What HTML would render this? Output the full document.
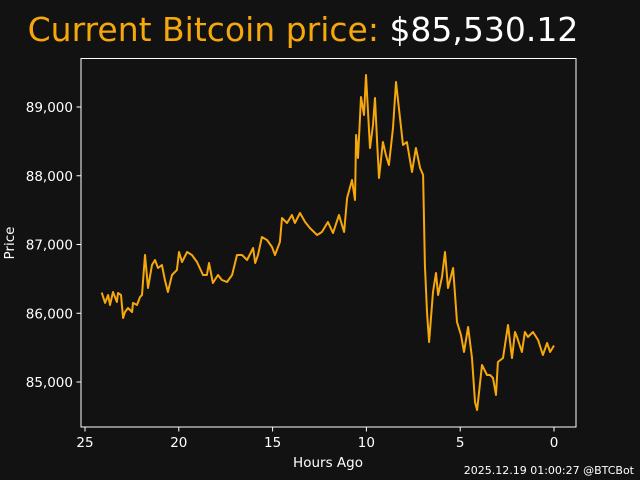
<!DOCTYPE html>
<html><head><meta charset="utf-8"><style>
html,body{margin:0;padding:0;background:#121212;}
svg{display:block;font-family:"DejaVu Sans","Liberation Sans",sans-serif;}
</style></head><body>
<svg id="chart" width="640" height="480" viewBox="0 0 640 480">
<rect width="640" height="480" fill="#121212"/>
<text x="303" y="41" text-anchor="middle" font-size="33"><tspan fill="#f5a70c">Current Bitcoin price: </tspan><tspan fill="#ffffff">$85,530.12</tspan></text>
<g id="ticks"></g>
<g id="plot"></g>
<rect x="81" y="58.5" width="495" height="368.5" fill="none" stroke="#ffffff" stroke-width="1"/>
<text x="10" y="243" transform="rotate(-90 10 243)" text-anchor="middle" fill="#ffffff" font-size="13.5" dominant-baseline="central">Price</text>
<text x="328" y="467" text-anchor="middle" fill="#ffffff" font-size="13.5">Hours Ago</text>
<text x="634" y="474" text-anchor="end" fill="#ffffff" font-size="11">2025.12.19 01:00:27 @BTCBot</text>
</svg>
<script>
const hoursAgo = [24.11,23.93,23.77,23.67,23.51,23.30,23.24,23.08,22.97,22.87,22.71,22.49,22.44,22.23,22.07,21.96,21.80,21.64,21.43,21.27,21.11,20.90,20.74,20.58,20.36,20.10,19.99,19.83,19.56,19.30,19.03,18.71,18.50,18.39,18.18,17.91,17.70,17.43,17.16,16.90,16.63,16.36,16.04,15.93,15.78,15.57,15.30,15.03,14.87,14.61,14.50,14.23,13.97,13.81,13.54,13.27,13.01,12.63,12.37,12.05,11.78,11.46,11.19,11.03,10.77,10.61,10.55,10.45,10.29,10.13,10.02,9.81,9.65,9.54,9.43,9.33,9.12,8.96,8.80,8.58,8.42,8.21,8.05,7.84,7.57,7.36,7.14,6.98,6.88,6.77,6.66,6.45,6.29,6.18,5.97,5.81,5.65,5.38,5.17,4.96,4.80,4.58,4.37,4.21,4.10,3.84,3.57,3.41,3.25,3.09,2.99,2.72,2.45,2.24,2.08,1.97,1.71,1.55,1.39,1.12,0.85,0.59,0.37,0.21,0.05,0.0];
const prices = [86300,86150,86266,86120,86309,86164,86295,86266,85931,86018,86076,86018,86150,86120,86236,86266,86847,86367,86702,86775,86658,86702,86484,86309,86556,86629,86891,86746,86891,86847,86746,86556,86556,86731,86440,86556,86484,86455,86556,86847,86847,86775,86949,86731,86847,87109,87066,86964,86847,87036,87386,87313,87429,87313,87458,87327,87240,87138,87182,87327,87167,87429,87182,87676,87938,87647,88593,88258,89145,88884,89465,88404,88738,89131,88491,87967,88491,88302,88156,88695,89364,88840,88447,88491,88055,88404,88113,88011,86702,86018,85582,86309,86586,86266,86527,86891,86367,86658,85873,85684,85436,85800,85349,84709,84593,85247,85102,85102,85058,84811,85291,85349,85829,85349,85727,85655,85436,85727,85655,85727,85611,85393,85567,85436,85509,85530];
const xTicks = [25,20,15,10,5,0];
const yTicks = [85000,86000,87000,88000,89000];
const yTickLabels = ["85,000","86,000","87,000","88,000","89,000"];

const NS = "http://www.w3.org/2000/svg";
function xScale(h){ return 554 - h*18.76; }
function yScale(p){ return 382 - (p-85000)*0.06875; }

const tg = document.getElementById('ticks');
xTicks.forEach(function(t){
  const x = xScale(t);
  const l = document.createElementNS(NS,'line');
  l.setAttribute('x1',x); l.setAttribute('x2',x); l.setAttribute('y1',427); l.setAttribute('y2',431.5);
  l.setAttribute('stroke','#fff');
  
  
  tg.appendChild(l);
  const tx = document.createElementNS(NS,'text');
  tx.setAttribute('x',x); tx.setAttribute('y',447); tx.setAttribute('text-anchor','middle');
  tx.setAttribute('fill','#fff'); tx.setAttribute('font-size','13.5');
  tx.textContent = String(t);
  
  
  tg.appendChild(tx);
});
yTicks.forEach(function(t,i){
  const y = yScale(t);
  const l = document.createElementNS(NS,'line');
  l.setAttribute('x1',76.5); l.setAttribute('x2',81); l.setAttribute('y1',y); l.setAttribute('y2',y);
  l.setAttribute('stroke','#fff');
  
  
  tg.appendChild(l);
  const tx = document.createElementNS(NS,'text');
  tx.setAttribute('x',73); tx.setAttribute('y',y+5); tx.setAttribute('text-anchor','end');
  tx.setAttribute('fill','#fff'); tx.setAttribute('font-size','13.5');
  tx.textContent = yTickLabels[i];
  
  
  tg.appendChild(tx);
});

const pg = document.getElementById('plot');
const path = document.createElementNS(NS,'polyline');
path.setAttribute('points', hoursAgo.map(function(h,i){ return xScale(h).toFixed(1)+','+yScale(prices[i]).toFixed(1); }).join(' '));
path.setAttribute('fill','none');
path.setAttribute('stroke','#f5a70c');
path.setAttribute('stroke-width','2');
path.setAttribute('stroke-linejoin','round');


pg.appendChild(path);
</script>
</body></html>
